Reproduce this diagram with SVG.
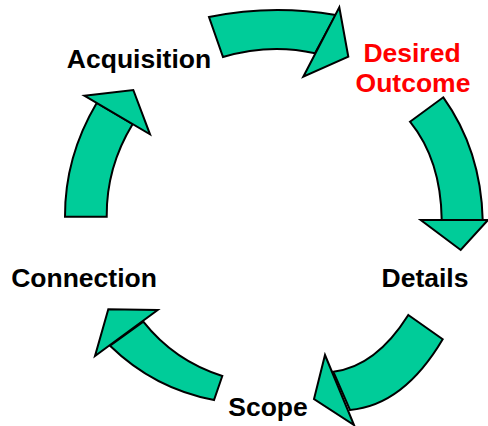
<svg xmlns="http://www.w3.org/2000/svg" width="488" height="426" viewBox="0 0 488 426">
<style>
.arrow{fill:#00CC99;stroke:#000;stroke-width:2;stroke-linejoin:miter}
.lbl{font-family:"Liberation Sans",Arial,sans-serif;font-weight:bold;font-size:26.5px;text-anchor:middle;fill:#000}
.red{fill:#FF0000}
</style>
<rect width="488" height="426" fill="#fff"/>
<g id="connectors">
<g id="arrow-top">
<path class="arrow" d="M209,17 Q272,4 335.7,15 L315,53.3 Q270,43 223,57 Z"/>
<path class="arrow" d="M339.3,7.3 L348.3,56.7 L303.3,76.7 Z"/>
</g>
<g id="arrow-right">
<path class="arrow" d="M410,121.7 L443.3,97.3 Q481,150 482.7,220 L441.7,220 Q441,160 410,121.7 Z"/>
<path class="arrow" d="M420.7,220 L488,220 L460.7,250 Z"/>
</g>
<g id="arrow-bottom-right">
<path class="arrow" d="M408.3,315 L442.7,339.3 Q403.6,405.3 350,410 L333.3,371.7 Q375.8,366.6 408.3,315 Z"/>
<path class="arrow" d="M325,355 L354,425 L314,399 Z"/>
</g>
<g id="arrow-bottom-left">
<path class="arrow" d="M222.3,376 Q174.4,361 143.3,321.7 L110,345.7 Q153.9,388.5 214,400 Z"/>
<path class="arrow" d="M157.7,310 L108.3,309.3 L95,356 Z"/>
</g>
<g id="arrow-left">
<path class="arrow" d="M65,216.7 Q64.7,157 96.7,103 L132.7,124.1 Q106.2,167.5 106.7,216.7 Z"/>
<path class="arrow" d="M84.3,95.7 L133.3,90 L150,134.3 Z"/>
</g>
</g>
<g id="acquisition"><text class="lbl" x="139" y="68">Acquisition</text></g>
<g id="desired-outcome"><text class="lbl red" x="412" y="62">Desired</text><text class="lbl red" x="413" y="92">Outcome</text></g>
<g id="details"><text class="lbl" x="425" y="287">Details</text></g>
<g id="connection"><text class="lbl" x="84" y="287">Connection</text></g>
<g id="scope"><text class="lbl" x="268" y="416">Scope</text></g>
</svg>
